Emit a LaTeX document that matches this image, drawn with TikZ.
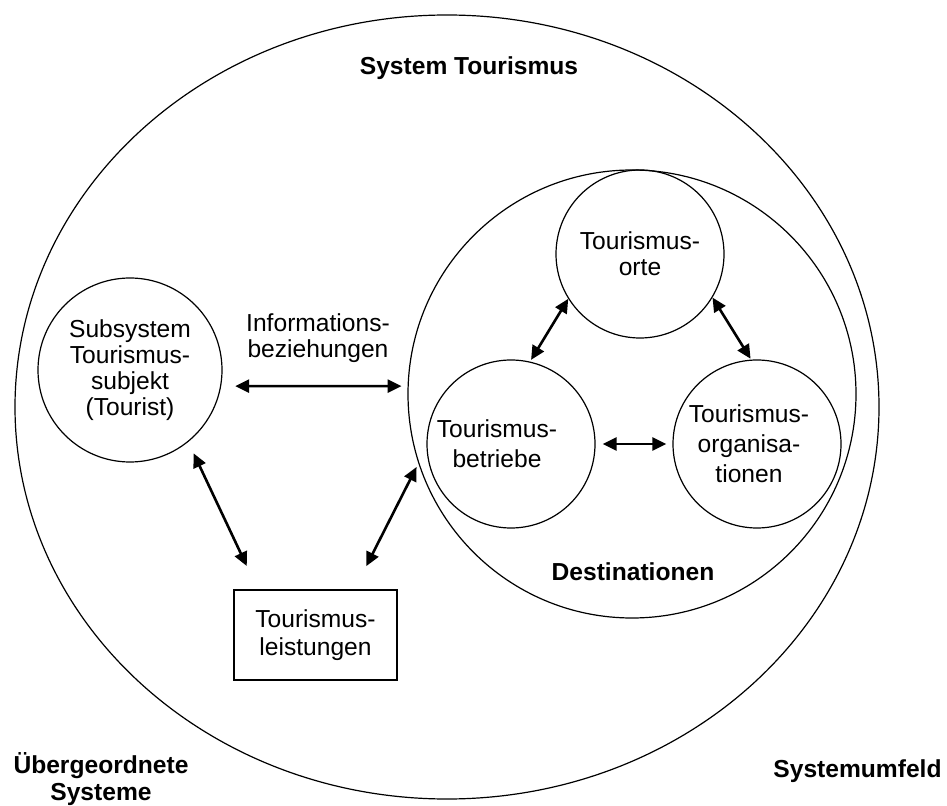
\documentclass[tikz,border=0pt]{standalone}
\usepackage{fontspec}
\setmainfont{Liberation Sans}
\usepackage{tikz}
\usetikzlibrary{arrows}
\usetikzlibrary{arrows.meta}
\usetikzlibrary{calc}
\usetikzlibrary{shapes.geometric}

\begin{document}
\begin{tikzpicture}[x=0.5pt,y=-0.5pt,
    font=\fontsize{12.3}{13}\selectfont,
    ring/.style={draw,circle,line width=0.6pt,inner sep=0pt,align=center},
    headline/.style={font=\fontsize{12.3}{13.5}\selectfont\bfseries,align=center}]

  \useasboundingbox (0,0) rectangle (947,806);

  \node [draw,ellipse,line width=0.6pt,minimum width=432pt,minimum height=392pt] (tour) at (447,407) {};
  \node [headline] (tourlab) at (469,68) {System Tourismus};

  \node [ring,minimum size=224pt] (dest) at (632,394) {};
  \node [headline] (destlab) at (633,572) {Destinationen};

  \node [ring,minimum size=84pt] (orte) at (640,254) {Tourismus-\\orte};
  \node [ring,minimum size=84pt,font=\fontsize{12.3}{15}\selectfont] (betr) at (511,444) {\hspace*{-14pt}Tourismus-\\\hspace*{-14pt}betriebe};
  \node [ring,minimum size=84pt,font=\fontsize{12.3}{15}\selectfont] (org) at (757,444) {\hspace*{-8pt}Tourismus-\\\hspace*{-8pt}organisa-\\\hspace*{-8pt}tionen};

  \node [ring,minimum size=92pt] (subj) at (130,370) {Subsystem\\Tourismus-\\subjekt\\(Tourist)};

  \node [draw,rectangle,line width=1pt,minimum width=81.5pt,minimum height=45pt,align=center,font=\fontsize{12.3}{14}\selectfont] (leist) at (315.5,635) {Tourismus-\\leistungen};

  \node [align=center] (info) at (318,338) {Informations-\\beziehungen};

  \node [headline] (ueber) at (101,779) {Übergeordnete\\Systeme};
  \node [headline,anchor=base east,inner sep=0pt] (umfeld) at (942,777) {Systemumfeld};

  \path [line width=1.3pt,>={Triangle[length=7pt,width=6.5pt]}]
    (subj.-10)   edge [<->,shorten <=7pt,shorten >=3pt] (dest.178.2)
    (subj.-51.6) edge [<->,shorten <=6.3pt,shorten >=12.7pt] ($(leist.north west)+(24.6,0)$)
    ($(leist.north east)+(-43.3,0)$) edge [<->,shorten <=12.8pt,shorten >=2pt] (dest.198.1)
    (orte.212.2) edge [<->,shorten >=1pt] (betr.77.3)
    (orte.-31.4) edge [<->,shorten >=0.5pt] (org.94.8)
    (betr.east)  edge [<->,shorten <=3.5pt,shorten >=3pt] (org.west);

\end{tikzpicture}
\end{document}
